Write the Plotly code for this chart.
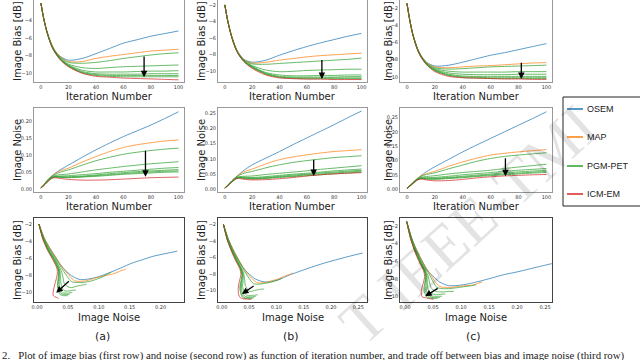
import plotly.graph_objects as go

W, H = 640, 360

iters = [0, 2, 4, 6, 8, 10, 14, 20, 30, 40, 50, 60, 70, 80, 90, 100]
methods = ["OSEM", "MAP", "PGM-PET", "ICM-EM"]
colors = {"OSEM": "#1f77b4", "MAP": "#ff7f0e", "PGM-PET": "#2ca02c", "ICM-EM": "#d62728"}

# ---- column (a) ----
bias_a_osem = [-2.0, -3.7, -5.0, -6.0, -6.8, -7.4, -8.1, -8.55, -8.35, -7.8, -7.2, -6.6, -6.2, -5.8, -5.5, -5.2]
bias_a_map = [-2.0, -3.7, -5.0, -6.0, -6.8, -7.4, -8.15, -8.7, -8.7, -8.35, -8.1, -7.9, -7.7, -7.5, -7.4, -7.3]
bias_a_pgm = [
    [-2.0, -3.7, -5.05, -6.05, -6.85, -7.45, -8.2, -8.8, -8.9, -8.8, -8.6, -8.35, -8.15, -7.95, -7.8, -7.7],
    [-2.0, -3.7, -5.05, -6.1, -6.9, -7.5, -8.3, -9.0, -9.4, -9.5, -9.4, -9.3, -9.25, -9.2, -9.15, -9.1],
    [-2.0, -3.75, -5.1, -6.1, -6.95, -7.55, -8.35, -9.1, -9.7, -9.9, -9.9, -9.9, -9.85, -9.8, -9.8, -9.75],
    [-2.0, -3.75, -5.1, -6.1, -6.95, -7.55, -8.4, -9.15, -9.85, -10.1, -10.15, -10.15, -10.15, -10.1, -10.1, -10.1],
    [-2.0, -3.75, -5.1, -6.15, -7.0, -7.6, -8.45, -9.2, -9.95, -10.2, -10.3, -10.3, -10.3, -10.3, -10.3, -10.3],
    [-2.0, -3.75, -5.1, -6.15, -7.0, -7.6, -8.45, -9.25, -10.0, -10.3, -10.4, -10.45, -10.45, -10.45, -10.45, -10.45],
]
bias_a_icm = [-2.0, -3.75, -5.1, -6.15, -7.0, -7.6, -8.5, -9.3, -10.05, -10.4, -10.5, -10.6, -10.65, -10.7, -10.75, -10.8]

noise_a_osem = [0.003, 0.012, 0.022, 0.031, 0.038, 0.045, 0.056, 0.070, 0.093, 0.115, 0.135, 0.154, 0.171, 0.188, 0.207, 0.227]
noise_a_map = [0.003, 0.012, 0.022, 0.031, 0.038, 0.044, 0.053, 0.061, 0.079, 0.095, 0.110, 0.122, 0.130, 0.136, 0.141, 0.144]
noise_a_pgm = [
    [0.003, 0.011, 0.021, 0.030, 0.037, 0.042, 0.049, 0.056, 0.070, 0.083, 0.093, 0.102, 0.108, 0.113, 0.117, 0.120],
    [0.003, 0.011, 0.020, 0.029, 0.035, 0.039, 0.042, 0.044, 0.050, 0.056, 0.061, 0.066, 0.070, 0.074, 0.077, 0.080],
    [0.003, 0.010, 0.019, 0.028, 0.034, 0.037, 0.038, 0.039, 0.042, 0.045, 0.049, 0.052, 0.055, 0.058, 0.061, 0.063],
    [0.003, 0.010, 0.019, 0.027, 0.033, 0.036, 0.036, 0.036, 0.038, 0.041, 0.045, 0.048, 0.051, 0.053, 0.055, 0.057],
    [0.003, 0.010, 0.018, 0.027, 0.033, 0.035, 0.035, 0.034, 0.036, 0.039, 0.042, 0.045, 0.048, 0.050, 0.052, 0.053],
    [0.003, 0.010, 0.018, 0.026, 0.032, 0.035, 0.034, 0.033, 0.035, 0.037, 0.040, 0.043, 0.045, 0.047, 0.049, 0.050],
]
noise_a_icm = [0.003, 0.009, 0.017, 0.025, 0.031, 0.033, 0.031, 0.028, 0.026, 0.026, 0.027, 0.029, 0.031, 0.033, 0.034, 0.035]

# ---- column (b) ----
bias_b_osem = [-2.0, -3.8, -5.2, -6.3, -7.2, -7.8, -8.6, -8.95, -8.7, -8.1, -7.55, -7.05, -6.6, -6.2, -5.8, -5.45]
bias_b_map = [-2.0, -3.8, -5.2, -6.3, -7.2, -7.85, -8.65, -9.05, -8.95, -8.7, -8.5, -8.3, -8.15, -8.05, -7.95, -7.85]
bias_b_pgm = [
    [-2.0, -3.8, -5.2, -6.3, -7.2, -7.9, -8.7, -9.15, -9.2, -9.1, -9.0, -8.9, -8.8, -8.7, -8.6, -8.45],
    [-2.0, -3.8, -5.25, -6.35, -7.25, -7.9, -8.75, -9.35, -9.9, -10.1, -10.05, -9.95, -9.9, -9.85, -9.8, -9.8],
    [-2.0, -3.85, -5.25, -6.4, -7.3, -7.95, -8.8, -9.45, -10.2, -10.5, -10.6, -10.6, -10.55, -10.55, -10.5, -10.5],
    [-2.0, -3.85, -5.25, -6.4, -7.3, -7.95, -8.8, -9.5, -10.3, -10.65, -10.75, -10.75, -10.75, -10.75, -10.7, -10.7],
    [-2.0, -3.85, -5.3, -6.4, -7.3, -8.0, -8.85, -9.55, -10.35, -10.75, -10.85, -10.85, -10.85, -10.85, -10.85, -10.85],
    [-2.0, -3.85, -5.3, -6.45, -7.35, -8.0, -8.85, -9.6, -10.4, -10.8, -10.9, -10.95, -10.95, -10.95, -10.95, -10.95],
]
bias_b_icm = [-2.0, -3.85, -5.3, -6.45, -7.35, -8.0, -8.9, -9.7, -10.5, -10.85, -10.95, -11.0, -11.0, -11.05, -11.05, -11.05]

noise_b_osem = [0.003, 0.012, 0.022, 0.031, 0.039, 0.047, 0.062, 0.080, 0.102, 0.124, 0.147, 0.169, 0.191, 0.213, 0.236, 0.258]
noise_b_map = [0.003, 0.012, 0.022, 0.031, 0.039, 0.046, 0.057, 0.066, 0.083, 0.097, 0.106, 0.113, 0.119, 0.124, 0.127, 0.130]
noise_b_pgm = [
    [0.003, 0.012, 0.021, 0.030, 0.038, 0.044, 0.052, 0.058, 0.070, 0.080, 0.088, 0.094, 0.099, 0.104, 0.107, 0.110],
    [0.003, 0.011, 0.020, 0.029, 0.036, 0.040, 0.042, 0.043, 0.048, 0.052, 0.056, 0.060, 0.065, 0.069, 0.073, 0.077],
    [0.003, 0.011, 0.020, 0.028, 0.035, 0.039, 0.039, 0.038, 0.041, 0.045, 0.049, 0.052, 0.056, 0.060, 0.063, 0.066],
    [0.003, 0.011, 0.019, 0.028, 0.035, 0.038, 0.037, 0.036, 0.038, 0.042, 0.046, 0.049, 0.053, 0.056, 0.059, 0.062],
    [0.003, 0.010, 0.019, 0.027, 0.034, 0.037, 0.036, 0.034, 0.036, 0.040, 0.043, 0.047, 0.050, 0.053, 0.056, 0.059],
    [0.003, 0.010, 0.019, 0.027, 0.034, 0.037, 0.035, 0.033, 0.035, 0.038, 0.041, 0.044, 0.047, 0.050, 0.053, 0.056],
]
noise_b_icm = [0.003, 0.010, 0.018, 0.026, 0.033, 0.035, 0.032, 0.030, 0.031, 0.034, 0.038, 0.043, 0.047, 0.050, 0.052, 0.054]

# ---- column (c) ----
bias_c_osem = [-1.5, -3.4, -4.9, -6.0, -6.9, -7.5, -8.3, -8.75, -8.65, -8.3, -7.9, -7.5, -7.2, -6.85, -6.5, -6.15]
bias_c_map = [-1.5, -3.4, -4.9, -6.0, -6.9, -7.5, -8.35, -8.85, -8.95, -8.85, -8.75, -8.7, -8.6, -8.5, -8.4, -8.35]
bias_c_pgm = [
    [-1.5, -3.4, -4.95, -6.05, -6.95, -7.55, -8.4, -8.95, -9.1, -9.05, -8.95, -8.85, -8.8, -8.75, -8.7, -8.65],
    [-1.5, -3.4, -4.95, -6.05, -6.95, -7.6, -8.45, -9.05, -9.35, -9.45, -9.45, -9.45, -9.45, -9.4, -9.4, -9.4],
    [-1.5, -3.45, -4.95, -6.1, -7.0, -7.6, -8.5, -9.15, -9.55, -9.7, -9.75, -9.75, -9.75, -9.7, -9.7, -9.7],
    [-1.5, -3.45, -5.0, -6.1, -7.0, -7.65, -8.5, -9.2, -9.7, -9.9, -9.95, -9.95, -9.95, -9.95, -9.95, -9.95],
    [-1.5, -3.45, -5.0, -6.1, -7.0, -7.65, -8.55, -9.25, -9.8, -10.0, -10.05, -10.1, -10.1, -10.1, -10.1, -10.1],
    [-1.5, -3.45, -5.0, -6.15, -7.05, -7.7, -8.55, -9.3, -9.85, -10.1, -10.15, -10.2, -10.2, -10.2, -10.2, -10.2],
]
bias_c_icm = [-1.5, -3.45, -5.0, -6.15, -7.05, -7.7, -8.6, -9.4, -9.95, -10.1, -10.15, -10.2, -10.25, -10.25, -10.3, -10.3]

noise_c_osem = [0.003, 0.012, 0.022, 0.031, 0.039, 0.047, 0.061, 0.078, 0.104, 0.130, 0.154, 0.177, 0.200, 0.223, 0.246, 0.270]
noise_c_map = [0.003, 0.012, 0.022, 0.031, 0.039, 0.046, 0.054, 0.062, 0.080, 0.095, 0.108, 0.119, 0.125, 0.130, 0.134, 0.138]
noise_c_pgm = [
    [0.003, 0.012, 0.021, 0.030, 0.038, 0.044, 0.051, 0.057, 0.071, 0.084, 0.097, 0.107, 0.114, 0.119, 0.123, 0.127],
    [0.003, 0.011, 0.020, 0.029, 0.036, 0.041, 0.044, 0.047, 0.053, 0.058, 0.062, 0.066, 0.072, 0.077, 0.082, 0.087],
    [0.003, 0.011, 0.020, 0.028, 0.035, 0.039, 0.040, 0.041, 0.045, 0.050, 0.054, 0.058, 0.062, 0.066, 0.069, 0.072],
    [0.003, 0.011, 0.019, 0.028, 0.035, 0.038, 0.038, 0.038, 0.041, 0.045, 0.049, 0.053, 0.057, 0.060, 0.063, 0.066],
    [0.003, 0.010, 0.019, 0.027, 0.034, 0.037, 0.036, 0.036, 0.039, 0.042, 0.046, 0.050, 0.053, 0.056, 0.059, 0.062],
    [0.003, 0.010, 0.019, 0.027, 0.034, 0.037, 0.035, 0.034, 0.037, 0.040, 0.044, 0.047, 0.050, 0.053, 0.056, 0.058],
]
noise_c_icm = [0.003, 0.010, 0.018, 0.026, 0.033, 0.035, 0.032, 0.029, 0.030, 0.034, 0.039, 0.043, 0.046, 0.048, 0.050, 0.051]

# arrows: (x_tail, y_tail, x_head, y_head) per row and column
arrows_bias = [(75, -7.95, 75, -10.5), (71, -8.5, 71, -11.0), (82, -8.2, 82, -10.25)]
arrows_noise = [(76, 0.117, 76, 0.036), (65, 0.102, 65, 0.043), (70.6, 0.113, 70.6, 0.045)]
arrows_trade = [(0.054, -8.6, 0.031, -10.1), (0.061, -9.3, 0.037, -10.4), (0.061, -8.95, 0.036, -9.95)]

panel_labels = ["(a)", "(b)", "(c)"]
caption = ("2.   Plot of image bias (first row) and noise (second row) as function of iteration number, "
           "and trade off between bias and image noise (third row)")

columns = [
    (bias_a_osem, bias_a_map, bias_a_pgm, bias_a_icm, noise_a_osem, noise_a_map, noise_a_pgm, noise_a_icm),
    (bias_b_osem, bias_b_map, bias_b_pgm, bias_b_icm, noise_b_osem, noise_b_map, noise_b_pgm, noise_b_icm),
    (bias_c_osem, bias_c_map, bias_c_pgm, bias_c_icm, noise_c_osem, noise_c_map, noise_c_pgm, noise_c_icm),
]

# pixel layout of the panels
col_px = [(34, 184), (218, 367), (400, 552)]
row_px = [(0, 82), (108, 192), (218, 302)]
ytitle_px = [17, 201, 388]
label_px = [102, 291, 473]
frame_color = ["#999", "#999", "#444"]
it_range = [-5, 104]
bias_range = [[-11.05, -1.65], [-11.35, -1.4], [-10.6, -1.1]]
noise_range = [[-0.009, 0.238], [-0.01, 0.268], [-0.01, 0.283]]
trade_x_range = [[-0.005, 0.238], [-0.007, 0.266], [-0.009, 0.2625]]
trade_y_range = [[-11.2, -1.28], [-11.36, -1.22], [-10.6, -1.1]]


def px(x):
    return x / W


def py(y):
    return 1 - y / H


def axis_ids(row, col):
    k = row * 3 + col + 1
    return ("x" if k == 1 else f"x{k}"), ("y" if k == 1 else f"y{k}")


def note(x, y, text, font, **kw):
    # paper-anchored text positioned in pixels
    d = dict(x=px(x), y=py(y), xref="paper", yref="paper", text=text, showarrow=False,
             xanchor="center", yanchor="middle", font=font)
    d.update(kw)
    return d


fig = go.Figure()
layout = {}
annotations = []
tick_font = dict(size=5, color="#333", family="DejaVu Sans")
title_font = dict(size=10, color="#222", family="DejaVu Sans")

for c, (b_osem, b_map, b_pgm, b_icm, n_osem, n_map, n_pgm, n_icm) in enumerate(columns):
    series = [("OSEM", b_osem, n_osem), ("MAP", b_map, n_map)]
    series += [("PGM-PET", b, n) for b, n in zip(b_pgm, n_pgm)]
    series.append(("ICM-EM", b_icm, n_icm))

    for r in range(3):
        xa, ya = axis_ids(r, c)
        for name, b, n in series:
            if r == 0:
                xs, ys = iters, b
            elif r == 1:
                xs, ys = iters, n
            else:
                xs, ys = n, b
            fig.add_trace(go.Scatter(
                x=xs, y=ys, xaxis=xa, yaxis=ya, mode="lines",
                line=dict(color=colors[name], width=0.9, shape="spline", smoothing=0.8),
                opacity=0.8, showlegend=False, name=name
            ))

        x0, x1 = col_px[c]
        top, bot = row_px[r]
        if r == 0:
            xr, yr, xdt, ydt, yfmt, xfmt = it_range, bias_range[c], 20, 2, "d", "d"
            arrow = arrows_bias[c]
        elif r == 1:
            xr, yr, xdt, ydt, yfmt, xfmt = it_range, noise_range[c], 20, 0.05, ".2f", "d"
            arrow = arrows_noise[c]
        else:
            xr, yr, xdt, ydt, yfmt, xfmt = trade_x_range[c], trade_y_range[c], 0.05, 2, "d", ".2f"
            arrow = arrows_trade[c]

        layout[xa.replace("x", "xaxis")] = dict(
            domain=[px(x0), px(x1)], range=xr, dtick=xdt, tick0=0, tickformat=xfmt,
            anchor=ya, showgrid=False, zeroline=False, showline=True, mirror=True,
            linecolor=frame_color[r], linewidth=1, tickfont=tick_font, ticks=""
        )
        layout[ya.replace("y", "yaxis")] = dict(
            domain=[py(bot), py(top)], range=yr, dtick=ydt, tick0=0, tickformat=yfmt,
            anchor=xa, showgrid=False, zeroline=False, showline=True, mirror=True,
            linecolor=frame_color[r], linewidth=1, tickfont=tick_font, ticks=""
        )

        annotations.append(dict(
            x=arrow[2], y=arrow[3], ax=arrow[0], ay=arrow[1],
            xref=xa, yref=ya, axref=xa, ayref=ya, text="", showarrow=True,
            arrowhead=2, arrowsize=1, arrowwidth=1.3, arrowcolor="black"
        ))

        xtitle = "Image Noise" if r == 2 else "Iteration Number"
        ytitle = "Image Noise" if r == 1 else "Image Bias [dB]"
        annotations.append(note((x0 + x1) / 2, bot + 15, xtitle, title_font))
        annotations.append(note(ytitle_px[c], (top + bot) / 2, ytitle, title_font, textangle=-90))

    annotations.append(note(label_px[c], 336, panel_labels[c],
                            dict(size=11, color="#222", family="DejaVu Sans")))

# legend box, drawn by hand to match the cropped original
shapes = [dict(type="rect", xref="paper", yref="paper", x0=px(563), x1=px(660),
               y0=py(206), y1=py(97), line=dict(color="#222", width=1))]
for i, name in enumerate(methods):
    yy = [109, 137, 166, 194][i]
    shapes.append(dict(type="line", xref="paper", yref="paper", x0=px(567), x1=px(583),
                       y0=py(yy), y1=py(yy), line=dict(color=colors[name], width=1.5)))
    annotations.append(note(585, yy, name, dict(size=9, color="#222", family="Liberation Sans"),
                            xanchor="left"))

annotations.append(note(0, 355, caption, dict(size=10.8, color="#222", family="Liberation Serif"),
                        xanchor="left"))
annotations.append(note(468, 225, "T IEEE-TMI",
                        dict(size=62, color="rgba(0,0,0,0.11)", family="Liberation Serif"),
                        textangle=-42))

fig.update_layout(
    width=W, height=H, margin=dict(l=0, r=0, t=0, b=0, autoexpand=False),
    paper_bgcolor="white", plot_bgcolor="white", showlegend=False,
    annotations=annotations, shapes=shapes, **layout
)

fig.write_html("out.html", config={"displayModeBar": False},
               post_script="document.body.style.margin = '0';")
